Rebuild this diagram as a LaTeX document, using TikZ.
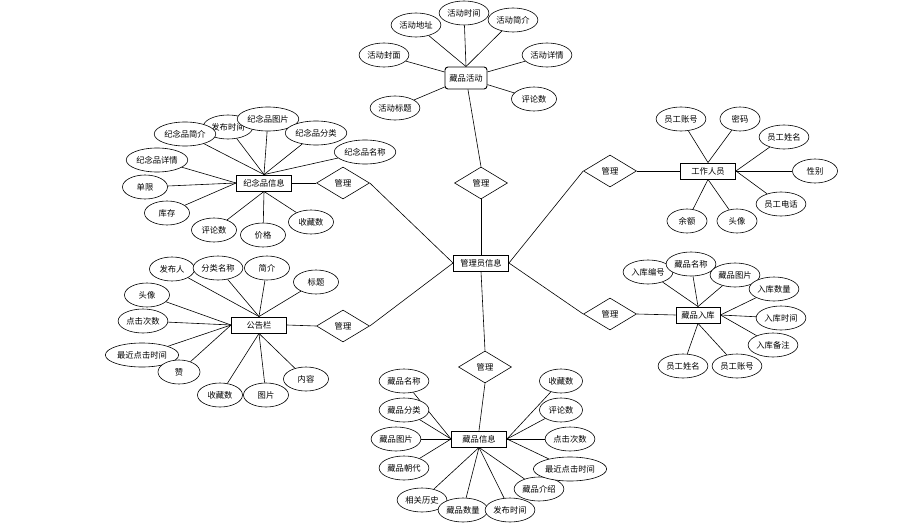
\documentclass[tikz,border=0pt]{standalone}
\usepackage{fontspec}
\newfontfamily\cjk{Noto Sans CJK SC}
\usepackage{tikz}
\usetikzlibrary{shapes,backgrounds}

\begin{document}
\begin{tikzpicture}[x=1pt,y=-1pt]

\tikzset{ent/.style={
  rectangle,
  inner sep=0pt,
  draw=black, fill=white,
  line width=0.9pt,
  minimum width=55pt,
  minimum height=16pt,
  font=\cjk\fontsize{8.3}{10}\selectfont
  },
  attr/.style={
  ellipse,
  inner xsep=1pt, inner ysep=0pt,
  draw=black, fill=white,
  line width=0.6pt,
  minimum width=45pt,
  minimum height=24pt,
  font=\cjk\fontsize{8.3}{10}\selectfont
  },
  rel/.style={
  diamond,
  inner sep=0pt,
  draw=black, fill=white,
  line width=0.6pt,
  minimum width=53pt,
  minimum height=32pt,
  font=\cjk\fontsize{8.3}{10}\selectfont
  },
  link/.style={draw, line width=0.6pt}}

\useasboundingbox (0,0) rectangle (904,532);

% centre
\node[ent] (adm) at (481,263) {管理员信息};
\node[rel] (ract) at (481,183) {管理};
\node[rel] (rsou) at (343,183) {管理};
\node[rel] (rntc) at (343,326) {管理};
\node[rel] (rstaff) at (610,171) {管理};
\node[rel] (rinb) at (610,314) {管理};
\node[rel] (rcol) at (485,367) {管理};

% activity
\node[ent, rounded corners=3pt, minimum width=42pt, minimum height=22pt] (act) at (466,78) {藏品活动};
\node[attr] (aaddr) at (416,25) {活动地址};
\node[attr] (atime) at (464,13) {活动时间};
\node[attr] (aintro) at (513,20) {活动简介};
\node[attr] (acover) at (384,55) {活动封面};
\node[attr] (adetail) at (547,55) {活动详情};
\node[attr] (atitle) at (395,108) {活动标题};
\node[attr] (acmt) at (534,99) {评论数};

% souvenir
\node[ent] (sou) at (264,183) {纪念品信息};
\node[attr] (stime) at (228,127) {发布时间};
\node[attr] (sintro) at (185,134) {纪念品简介};
\node[attr] (spic) at (268,119) {纪念品图片};
\node[attr] (scat) at (316,133) {纪念品分类};
\node[attr] (sname) at (365,152) {纪念品名称};
\node[attr] (sdetail) at (157,160) {纪念品详情};
\node[attr] (slimit) at (145,187) {单限};
\node[attr] (sstock) at (167,213) {库存};
\node[attr] (scmt) at (214,230) {评论数};
\node[attr] (sprice) at (263,235) {价格};
\node[attr] (sfav) at (311,222) {收藏数};

% staff
\node[ent] (staff) at (708,171) {工作人员};
\node[attr] (taccount) at (681,119) {员工账号};
\node[attr, minimum width=40pt] (tpwd) at (740,119) {密码};
\node[attr] (tname) at (784,137) {员工姓名};
\node[attr] (tsex) at (815,171) {性别};
\node[attr] (ttel) at (781,204) {员工电话};
\node[attr, minimum width=40pt] (tbal) at (687,221) {余额};
\node[attr, minimum width=40pt] (tavatar) at (737,221) {头像};

% notice board
\node[ent] (ntc) at (259,325) {公告栏};
\node[attr] (npub) at (172,269) {发布人};
\node[attr] (ncat) at (218,268) {分类名称};
\node[attr] (nintro) at (267,268) {简介};
\node[attr] (ntitle) at (316,282) {标题};
\node[attr] (navatar) at (147,295) {头像};
\node[attr] (nclick) at (143,321) {点击次数};
\node[attr] (nlast) at (142,355) {最近点击时间};
\node[attr, minimum width=42pt] (nlike) at (179,372) {赞};
\node[attr] (nfav) at (220,395) {收藏数};
\node[attr] (npic) at (266,395) {图片};
\node[attr] (ncontent) at (306,379) {内容};

% stock in
\node[ent, minimum width=44pt] (inb) at (698,315) {藏品入库};
\node[attr] (ino) at (648,272) {入库编号};
\node[attr] (iname) at (691,264) {藏品名称};
\node[attr] (ipic) at (735,275) {藏品图片};
\node[attr] (inum) at (774,289) {入库数量};
\node[attr] (itime) at (781,318) {入库时间};
\node[attr] (inote) at (773,345) {入库备注};
\node[attr] (isname) at (683,366) {员工姓名};
\node[attr] (isacc) at (737,366) {员工账号};

% collection
\node[ent] (col) at (479,439) {藏品信息};
\node[attr] (cname) at (404,381) {藏品名称};
\node[attr] (ccat) at (404,410) {藏品分类};
\node[attr] (cpic) at (396,439) {藏品图片};
\node[attr] (cdyn) at (404,468) {藏品朝代};
\node[attr] (chist) at (422,500) {相关历史};
\node[attr] (cnum) at (463,510) {藏品数量};
\node[attr] (ctime) at (510,510) {发布时间};
\node[attr] (cintro) at (539,489) {藏品介绍};
\node[attr] (clast) at (570,469) {最近点击时间};
\node[attr] (cclick) at (570,439) {点击次数};
\node[attr, minimum width=43pt] (ccmt) at (561,410) {评论数};
\node[attr, minimum width=43pt] (cfav) at (561,381) {收藏数};

\begin{scope}[on background layer]
\path[link] (adm.west) -- (rsou.east);
\path[link] (rsou.west) -- (sou.east);
\path[link] (adm.west) -- (rntc.east);
\path[link] (rntc.west) -- (ntc.east);
\path[link] (adm.north) -- (ract.south);
\path[link] (ract.north) -- (act);
\path[link] (adm.east) -- (rstaff.west);
\path[link] (rstaff.east) -- (staff.west);
\path[link] (adm.east) -- (rinb.west);
\path[link] (rinb.east) -- (inb.west);
\path[link] (adm.south) -- (rcol.north);
\path[link] (rcol.south) -- (col.north);

\path[link] (act.north) -- (aaddr);
\path[link] (act.north) -- (atime);
\path[link] (act.north) -- (aintro);
\path[link] (act) -- (acover);
\path[link] (act) -- (adetail);
\path[link] (act) -- (atitle);
\path[link] (act) -- (acmt);

\path[link] (sou.north) -- (stime);
\path[link] (sou.north) -- (sintro);
\path[link] (sou.north) -- (spic);
\path[link] (sou.north) -- (scat);
\path[link] (sou.north) -- (sname);
\path[link] (sou.west) -- (sdetail);
\path[link] (sou.west) -- (slimit);
\path[link] (sou.west) -- (sstock);
\path[link] (sou.south) -- (scmt);
\path[link] (sou.south) -- (sprice);
\path[link] (sou.south) -- (sfav);

\path[link] (staff.north) -- (taccount);
\path[link] (staff.north) -- (tpwd);
\path[link] (staff.east) -- (tname);
\path[link] (staff.east) -- (tsex);
\path[link] (staff.east) -- (ttel);
\path[link] (staff.south) -- (tbal);
\path[link] (staff.south) -- (tavatar);

\path[link] (ntc.north) -- (npub);
\path[link] (ntc.north) -- (ncat);
\path[link] (ntc.north) -- (nintro);
\path[link] (ntc.north) -- (ntitle);
\path[link] (ntc.west) -- (navatar);
\path[link] (ntc.west) -- (nclick);
\path[link] (ntc.west) -- (nlast);
\path[link] (ntc.west) -- (nlike);
\path[link] (ntc.south) -- (nfav);
\path[link] (ntc.south) -- (npic);
\path[link] (ntc.south) -- (ncontent);

\path[link] (inb.north) -- (ino);
\path[link] (inb.north) -- (iname);
\path[link] (inb.north) -- (ipic);
\path[link] (inb.east) -- (inum);
\path[link] (inb.east) -- (itime);
\path[link] (inb.east) -- (inote);
\path[link] (inb.south) -- (isname);
\path[link] (inb.south) -- (isacc);

\path[link] (col.west) -- (cname);
\path[link] (col.west) -- (ccat);
\path[link] (col.west) -- (cpic);
\path[link] (col.west) -- (cdyn);
\path[link] (col.south) -- (chist);
\path[link] (col.south) -- (cnum);
\path[link] (col.south) -- (ctime);
\path[link] (col.south) -- (cintro);
\path[link] (col.east) -- (clast);
\path[link] (col.east) -- (cclick);
\path[link] (col.east) -- (ccmt);
\path[link] (col.east) -- (cfav);
\end{scope}
\end{tikzpicture}
\end{document}
